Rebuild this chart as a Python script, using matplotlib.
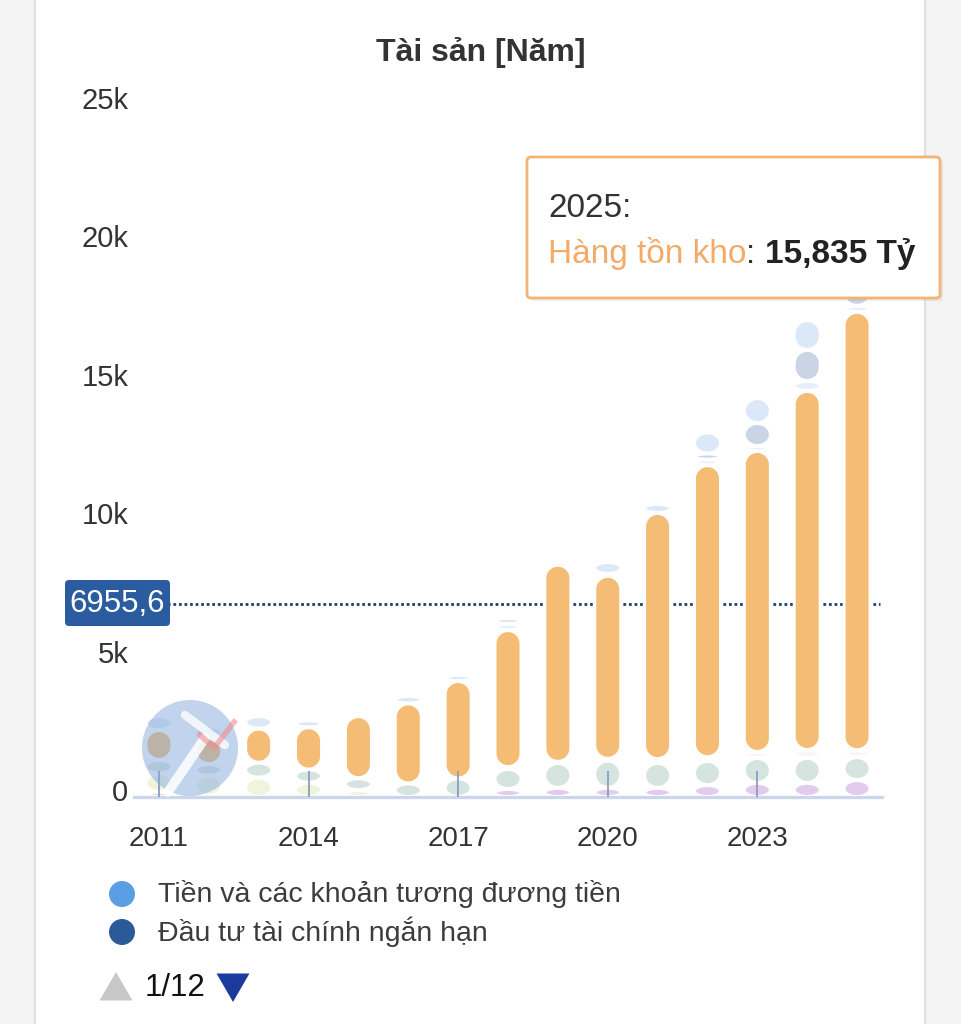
import matplotlib
matplotlib.use('Agg')
import matplotlib.pyplot as plt
import numpy as np
from matplotlib.patches import Polygon, FancyBboxPatch, Circle, RegularPolygon
from matplotlib.lines import Line2D
from matplotlib.transforms import ScaledTranslation

FONT = ['Liberation Sans', 'DejaVu Sans']
plt.rcParams['font.family'] = FONT

# ---------------- data (Tỷ VND) ----------------
years = [2011, 2012, 2013, 2014, 2015, 2016, 2017, 2018, 2019, 2020, 2021, 2022, 2023, 2024, 2025]
tick_years = [2011, 2014, 2017, 2020, 2023]
ytick_values = [0, 5000, 10000, 15000, 20000, 25000]
ytick_labels = ['0', '5k', '10k', '15k', '20k', '25k']

# stacked series, bottom -> top
tai_san_dai_han_khac = [180, 50, 0, 0, 0, 0, 0, 290, 330, 330, 330, 430, 510, 510, 610]
tai_san_do_dang = [670, 720, 700, 520, 250, 0, 0, 0, 0, 0, 0, 0, 0, 0, 0]
tai_san_co_dinh = [490, 420, 540, 470, 430, 490, 670, 720, 900, 980, 900, 870, 900, 900, 830]
tai_san_nh_khac = [0, 0, 0, 0, 0, 0, 0, 70, 40, 70, 140, 140, 220, 290, 250]
hang_ton_kho = [1080, 920, 1230, 1530, 2240, 2890, 3520, 4950, 7120, 6610, 8890, 10550, 10870, 12970, 15835]
phai_thu_nh = [0, 0, 0, 0, 0, 0, 0, 220, 0, 70, 0, 200, 180, 360, 220]
dau_tu_tc_nh = [0, 0, 0, 0, 0, 0, 0, 0, 0, 0, 0, 220, 830, 1120, 800]
tien = [500, 430, 450, 250, 0, 270, 220, 220, 0, 430, 330, 760, 900, 1080, 1000]

series = [
    (tai_san_dai_han_khac, '#e3cbee'),
    (tai_san_do_dang, '#eef5dc'),
    (tai_san_co_dinh, '#d6e4e0'),
    (tai_san_nh_khac, '#f5f6f8'),
    (hang_ton_kho, '#f4bc74'),
    (phai_thu_nh, '#e6eef9'),
    (dau_tu_tc_nh, '#c9d5e7'),
    (tien, '#dbe8f8'),
]

crosshair_value = 6955.6
crosshair_label = '6955,6'
tooltip_year = '2025:'
tooltip_series = 'Hàng tồn kho'
tooltip_value = '15,835 Tỷ'
title = 'Tài sản [Năm]'
legend_items = [('Tiền và các khoản tương đương tiền', '#5a9ee3'),
                ('Đầu tư tài chính ngắn hạn', '#2c5a98')]

# ---------------- figure ----------------
W, H = 961, 1024
fig = plt.figure(figsize=(W / 100, H / 100), dpi=100, facecolor='#f3f3f3')

def P(x, y):
    return (x / 100.0, (H - y) / 100.0)

tr = fig.dpi_scale_trans

# card
card = FancyBboxPatch(P(35, 1060), (925 - 35) / 100, (1060 + 20) / 100,
                      boxstyle='round,pad=0,rounding_size=0.22', transform=tr,
                      facecolor='white', edgecolor='#e0e0e0', lw=1.5, zorder=-5)
fig.patches.append(card)

ax_l, ax_r, ax_t, ax_b = 134, 882, 105, 797
ax = fig.add_axes([ax_l / W, (H - ax_b) / H, (ax_r - ax_l) / W, (ax_b - ax_t) / H])
ax.patch.set_visible(False)
ax.set_axisbelow(False)
n = len(years)
ax.set_xlim(-0.5, n - 0.5)
ax.set_ylim(0, 25000)

px_x = (ax_r - ax_l) / n
px_y = (ax_b - ax_t) / 25000.0
bar_w = 25.8 / px_x


def pill(xc, y0, y1):
    rx = bar_w / 2
    rx_px = rx * px_x
    h_px = (y1 - y0) * px_y
    ry = min(rx_px, h_px / 2) / px_y
    t = np.linspace(0, np.pi, 40)
    top = np.column_stack([xc + rx * np.cos(t), y1 - ry + ry * np.sin(t)])
    bot = np.column_stack([xc - rx * np.cos(t), y0 + ry - ry * np.sin(t)])
    return np.vstack([top, bot])

shrink = 0.6 / px_y
xs = np.arange(n)
cum = np.zeros(n)
for vals, col in series:
    for i in range(n):
        v = vals[i]
        if v <= 0:
            continue
        y0 = cum[i] + shrink
        y1 = cum[i] + v - shrink
        if (y1 - y0) * px_y > 0.5:
            ax.add_patch(Polygon(pill(xs[i], y0, y1), closed=True, facecolor=col,
                                 edgecolor='white', lw=2.0, zorder=2))
        cum[i] += v

# crosshair
ax.axhline(crosshair_value, xmin=0, xmax=0.997, color='#22406f', lw=2.0,
           linestyle=(0, (1.0, 1.0)), zorder=1.5)

# axes styling
for s in ['left', 'right', 'top']:
    ax.spines[s].set_visible(False)
ax.spines['bottom'].set_color('#ccd6eb')
ax.spines['bottom'].set_linewidth(2.4)
ax.set_xticks([years.index(y) for y in tick_years])
ax.set_xticklabels([str(y) for y in tick_years])
ax.tick_params(axis='x', direction='in', length=19, width=1.3, color='#8d9cc2',
               labelsize=20, labelcolor='#333333', pad=21)
ax.set_yticks(ytick_values)
ax.set_yticklabels(ytick_labels)
ax.tick_params(axis='y', length=0, labelsize=21, labelcolor='#333333', pad=4)
off = ScaledTranslation(0, 7 / 100, tr)
for lab in ax.get_yticklabels():
    lab.set_transform(lab.get_transform() + off)

# title
fig.text(481 / W, 1 - 53 / H, title, ha='center', va='center', fontsize=23,
         fontweight='bold', color='#333333')

# logo watermark (approximation)
fig.patches.append(Circle(P(190, 748), 0.48, transform=tr, facecolor='#86abdc',
                          alpha=0.5, edgecolor='none', zorder=5))
fig.lines.append(Line2D([P(168, 792)[0], P(205, 738)[0]], [P(168, 792)[1], P(205, 738)[1]],
                        transform=tr, color='white', lw=7, alpha=0.85, zorder=6,
                        solid_capstyle='round'))
fig.lines.append(Line2D([P(185, 715)[0], P(225, 745)[0]], [P(185, 715)[1], P(225, 745)[1]],
                        transform=tr, color='white', lw=6, alpha=0.8, zorder=6,
                        solid_capstyle='round'))
fig.lines.append(Line2D([P(200, 735)[0], P(214, 748)[0], P(234, 722)[0]],
                        [P(200, 735)[1], P(214, 748)[1], P(234, 722)[1]],
                        transform=tr, color='#f08c8c', lw=4, alpha=0.6, zorder=6))

# crosshair label
fig.patches.append(FancyBboxPatch(P(65, 626), 1.05, 0.46,
                                  boxstyle='round,pad=0,rounding_size=0.04', transform=tr,
                                  facecolor='#2b5c9f', edgecolor='none', zorder=8))
fig.text(*P(117.5, 604), crosshair_label, transform=tr, ha='center', va='center',
         fontsize=22.5, color='white', zorder=9)

# tooltip
fig.patches.append(FancyBboxPatch(P(530, 301), (943 - 530) / 100, (301 - 160) / 100,
                                  boxstyle='round,pad=0,rounding_size=0.04', transform=tr,
                                  facecolor='#000000', alpha=0.06, edgecolor='none', zorder=9))
fig.patches.append(FancyBboxPatch(P(527, 298), (940 - 527) / 100, (298 - 157) / 100,
                                  boxstyle='round,pad=0,rounding_size=0.04', transform=tr,
                                  facecolor='white', edgecolor='#f2b573', lw=2.0, zorder=10))
TF = 24
fig.text(*P(548, 217), tooltip_year, transform=tr, ha='left', va='baseline',
         fontsize=TF, color='#333333', zorder=11)
renderer = fig.canvas.get_renderer()
t1 = fig.text(*P(548, 263), tooltip_series, transform=tr, ha='left', va='baseline',
              fontsize=TF, color='#f2ab68', zorder=11)
x1 = t1.get_window_extent(renderer=renderer).x1
t2 = fig.text(x1 / 100, (H - 263) / 100, ': ', transform=tr, ha='left', va='baseline',
              fontsize=TF, color='#333333', zorder=11)
x2 = t2.get_window_extent(renderer=renderer).x1
fig.text(x2 / 100, (H - 263) / 100, tooltip_value, transform=tr, ha='left', va='baseline',
         fontsize=TF, fontweight='bold', color='#222222', zorder=11)

# legend
for k, (lab, col) in enumerate(legend_items):
    yy = 894 + 38 * k
    fig.patches.append(Circle(P(122, yy), 0.13, transform=tr, facecolor=col,
                              edgecolor='none', zorder=5))
    fig.text(*P(158, yy), lab, transform=tr, ha='left', va='center', fontsize=20.5,
             color='#3c3c3c')

# pagination
fig.patches.append(RegularPolygon(P(116, 991), 3, radius=0.19, orientation=0,
                                  transform=tr, facecolor='#c8c8c8', edgecolor='none'))
fig.patches.append(RegularPolygon(P(233, 983), 3, radius=0.19, orientation=np.pi,
                                  transform=tr, facecolor='#1c3a9c', edgecolor='none'))
fig.text(*P(145, 988), '1/12', transform=tr, ha='left', va='center', fontsize=22.5,
         color='#111111')

fig.savefig('out.png', dpi=100, facecolor=fig.get_facecolor())
